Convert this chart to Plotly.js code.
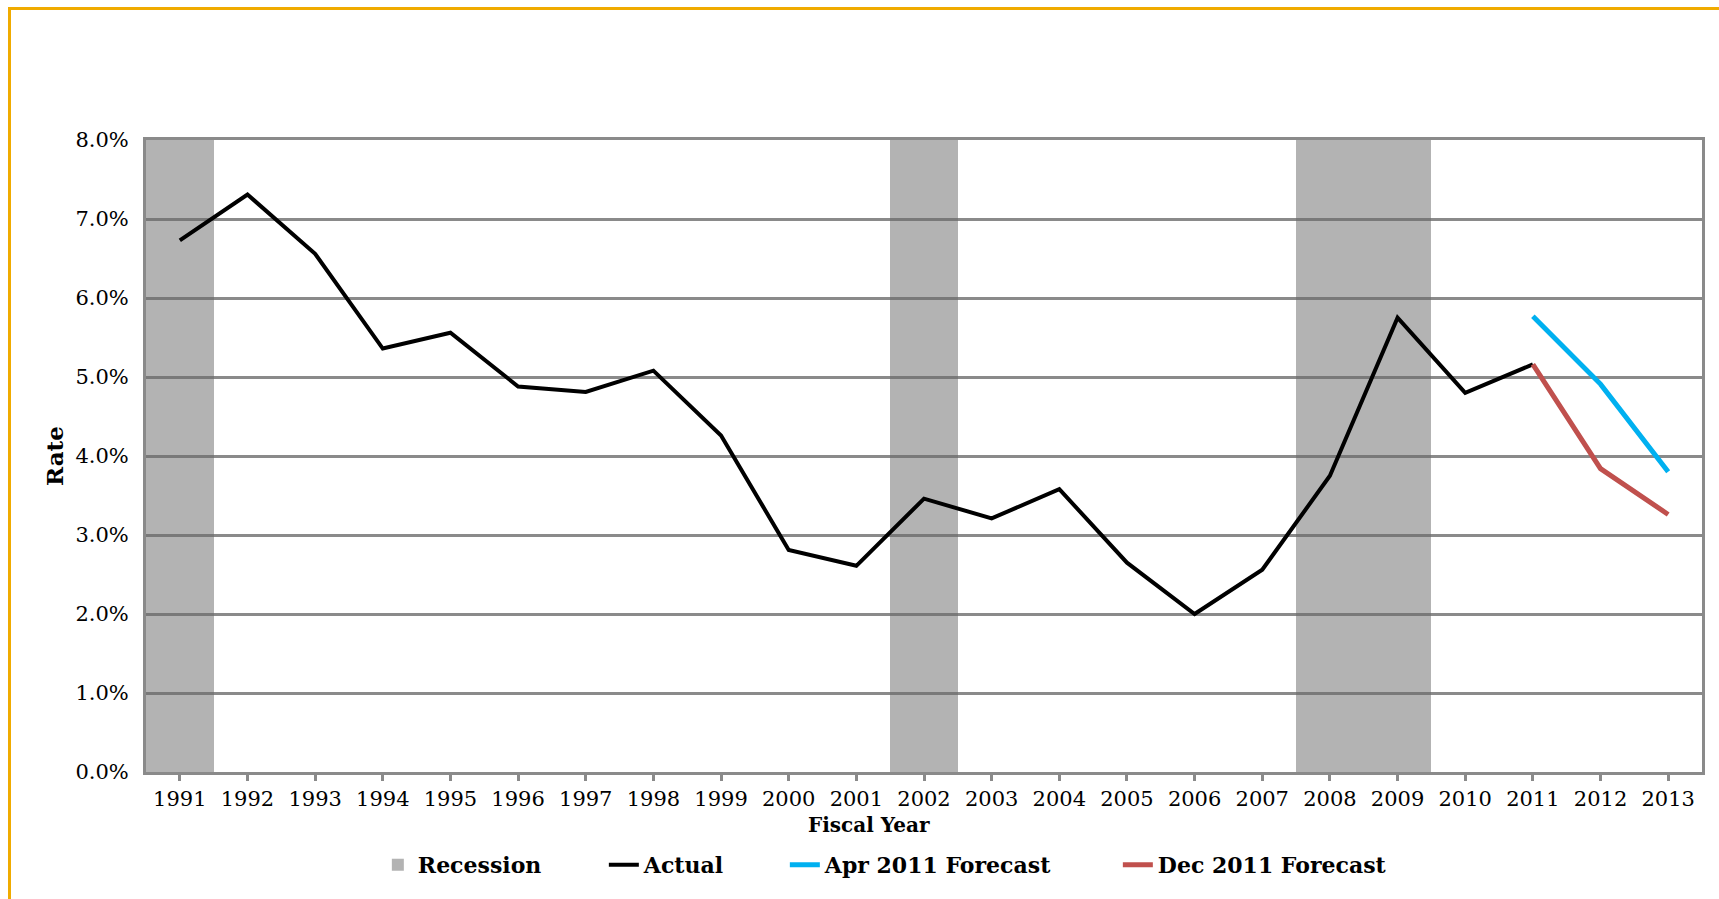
<!DOCTYPE html>
<html>
<head>
<meta charset="utf-8">
<script src="https://cdn.plot.ly/plotly-3.0.1.min.js"></script>
<style>
html,body{margin:0;padding:0;overflow:hidden;background:#ffffff;}
#frame{position:absolute;left:8px;top:7px;width:1800px;height:1000px;border:3px solid #F0AB00;box-sizing:border-box;}
#chart{position:absolute;left:0;top:0;width:1719px;height:899px;}
</style>
</head>
<body>
<div id="frame"></div>
<div id="chart"></div>
<script>
// Category axis (fiscal years)
var years = ['1991','1992','1993','1994','1995','1996','1997','1998','1999','2000','2001','2002','2003','2004','2005','2006','2007','2008','2009','2010','2011','2012','2013'];

// Recession shading (full height columns)
var recessionYears = ['1991','2002','2008','2009'];
var recessionValues = [8, 8, 8, 8];

// Actual rate (%)
var actualYears = ['1991','1992','1993','1994','1995','1996','1997','1998','1999','2000','2001','2002','2003','2004','2005','2006','2007','2008','2009','2010','2011'];
var actualValues = [6.73, 7.31, 6.56, 5.36, 5.56, 4.88, 4.81, 5.08, 4.26, 2.81, 2.61, 3.46, 3.21, 3.58, 2.65, 2.00, 2.56, 3.75, 5.75, 4.80, 5.16];

// Forecasts (%)
var aprYears = ['2011','2012','2013'];
var aprValues = [5.77, 4.91, 3.80];
var decYears = ['2011','2012','2013'];
var decValues = [5.16, 3.84, 3.26];

var gridGray = '#8A8A8A';

var traces = [
  {type:'bar', name:'Recession', x:recessionYears, y:recessionValues,
   marker:{color:'rgba(105,105,106,0.51)', line:{width:0}}, legendwidth:181, hoverinfo:'x'},
  {type:'scatter', mode:'lines', name:'Actual', x:actualYears, y:actualValues,
   line:{color:'#000000', width:4}, legendwidth:136},
  {type:'scatter', mode:'lines', name:'Apr 2011 Forecast', x:aprYears, y:aprValues,
   line:{color:'#00B0F0', width:5}, legendwidth:288},
  {type:'scatter', mode:'lines', name:'Dec 2011 Forecast', x:decYears, y:decValues,
   line:{color:'#C0504D', width:5}, legendwidth:240}
];

var layout = {
  width:1719, height:899,
  margin:{l:146, r:17, t:140, b:127},
  paper_bgcolor:'rgba(0,0,0,0)',
  plot_bgcolor:'#ffffff',
  bargap:0,
  showlegend:true,
  font:{family:'DejaVu Serif', color:'#000000', size:20},
  xaxis:{
    type:'category', categoryorder:'array', categoryarray:years,
    range:[-0.5, 22.5],
    showgrid:false, zeroline:false,
    showline:true, linecolor:gridGray, linewidth:3, mirror:true,
    ticks:'outside', ticklen:6, tickwidth:3, tickcolor:gridGray,
    tickfont:{family:'DejaVu Serif', size:21, color:'#000'},
    fixedrange:true
  },
  yaxis:{
    range:[0, 8], dtick:1, tick0:0,
    tickformat:'.1f', ticksuffix:'%',
    showgrid:true, gridcolor:gridGray, gridwidth:3,
    zeroline:false,
    showline:true, linecolor:gridGray, linewidth:3, mirror:true,
    ticks:'', ticklabelstandoff:10,
    tickfont:{family:'DejaVu Serif', size:21, color:'#000'},
    title:{text:'Rate', font:{family:'DejaVu Serif', size:23, weight:'bold', color:'#000'}, standoff:6},
    fixedrange:true
  },
  legend:{
    orientation:'h', x:0.149, xanchor:'left', y:-0.147, yanchor:'middle',
    font:{family:'DejaVu Serif', size:22, weight:'bold', color:'#000'},
    traceorder:'normal', bgcolor:'rgba(0,0,0,0)'
  },
  annotations:[
    {text:'Fiscal Year', xref:'paper', yref:'paper', x:0.4647, y:-0.084,
     xanchor:'center', yanchor:'middle', showarrow:false,
     font:{family:'DejaVu Serif', size:20, weight:'bold', color:'#000'}}
  ]
};

Plotly.newPlot('chart', traces, layout, {displayModeBar:false, staticPlot:true});
</script>
</body>
</html>
